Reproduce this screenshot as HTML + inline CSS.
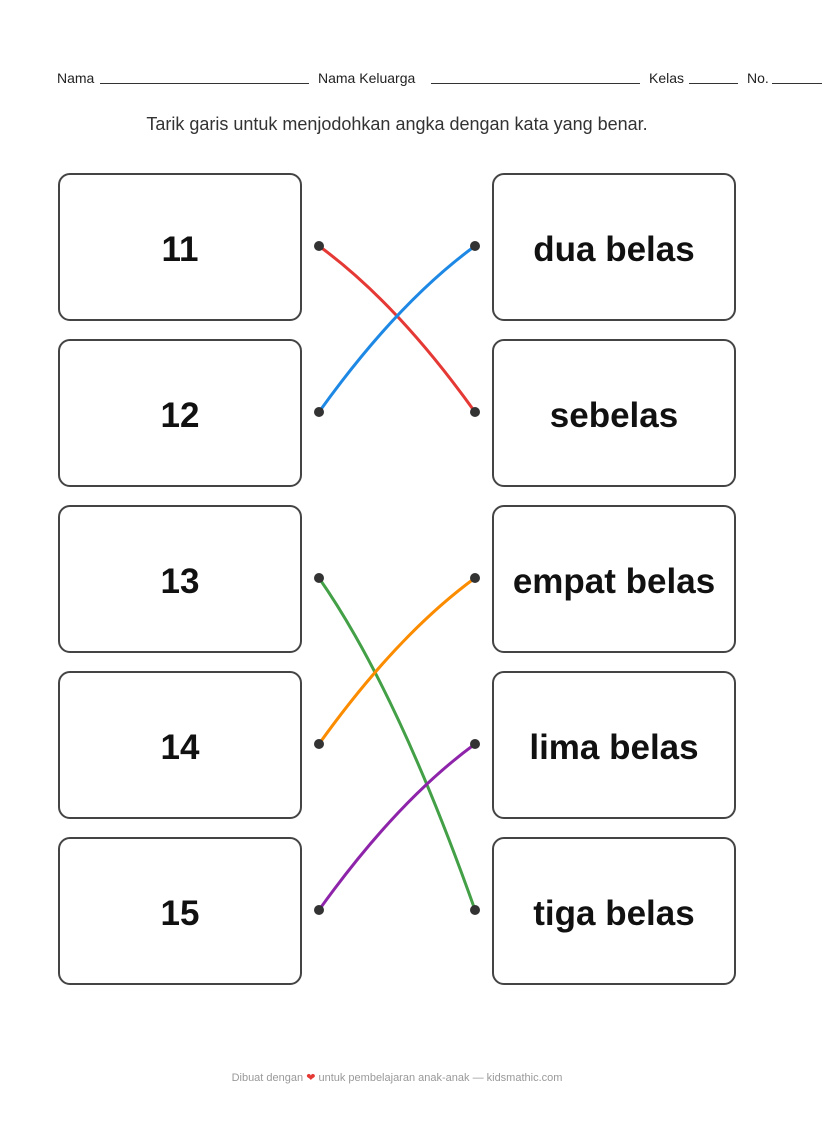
<!DOCTYPE html>
<html><head><meta charset="utf-8"><style>
body{margin:0;width:822px;height:1123px;background:#fff;position:relative;font-family:"Liberation Sans",sans-serif;overflow:hidden}
.t{position:absolute;white-space:nowrap}
.box{position:absolute;width:244px;height:148px;border:2px solid #444;border-radius:12px;display:flex;align-items:center;justify-content:center;font-weight:bold;font-size:35px;color:#111;box-sizing:border-box;padding-top:6px}
.ln{position:absolute;border-bottom:1px solid #333;height:0}
</style></head><body>
<div class="t" style="left:57px;top:70px;font-size:14px;color:#222">Nama</div>
<div class="ln" style="left:100px;top:83px;width:209px"></div>
<div class="t" style="left:318px;top:70px;font-size:14px;color:#222">Nama Keluarga</div>
<div class="ln" style="left:431px;top:83px;width:209px"></div>
<div class="t" style="left:649px;top:70px;font-size:14px;color:#222">Kelas</div>
<div class="ln" style="left:689px;top:83px;width:49px"></div>
<div class="t" style="left:747px;top:70px;font-size:14px;color:#222">No.</div>
<div class="ln" style="left:772px;top:83px;width:50px"></div>
<div class="t" style="left:0;width:794px;text-align:center;top:114px;font-size:18px;color:#333">Tarik garis untuk menjodohkan angka dengan kata yang benar.</div>

<div class="box" style="left:58px;top:173px">11</div>
<div class="box" style="left:58px;top:339px">12</div>
<div class="box" style="left:58px;top:505px">13</div>
<div class="box" style="left:58px;top:671px">14</div>
<div class="box" style="left:58px;top:837px">15</div>
<div class="box" style="left:492px;top:173px">dua belas</div>
<div class="box" style="left:492px;top:339px">sebelas</div>
<div class="box" style="left:492px;top:505px">empat belas</div>
<div class="box" style="left:492px;top:671px">lima belas</div>
<div class="box" style="left:492px;top:837px">tiga belas</div>

<svg style="position:absolute;left:0;top:0" width="822" height="1123">
<g fill="none" stroke-width="3">
<path d="M319 246 Q397 303 475 412" stroke="#e53935"/>
<path d="M319 412 Q397 303 475 246" stroke="#1e88e5"/>
<path d="M319 578 Q397 690 475 910" stroke="#43a047"/>
<path d="M319 744 Q397 635 475 578" stroke="#fb8c00"/>
<path d="M319 910 Q397 801 475 744" stroke="#8e24aa"/>
</g>
<g fill="#333">
<circle cx="319" cy="246" r="5"/><circle cx="319" cy="412" r="5"/><circle cx="319" cy="578" r="5"/><circle cx="319" cy="744" r="5"/><circle cx="319" cy="910" r="5"/>
<circle cx="475" cy="246" r="5"/><circle cx="475" cy="412" r="5"/><circle cx="475" cy="578" r="5"/><circle cx="475" cy="744" r="5"/><circle cx="475" cy="910" r="5"/>
</g>
</svg>
<div class="t" style="left:0;width:794px;text-align:center;top:1071px;font-size:11px;color:#999">Dibuat dengan <span style="color:#e53935">❤</span> untuk pembelajaran anak-anak — kidsmathic.com</div>
</body></html>
